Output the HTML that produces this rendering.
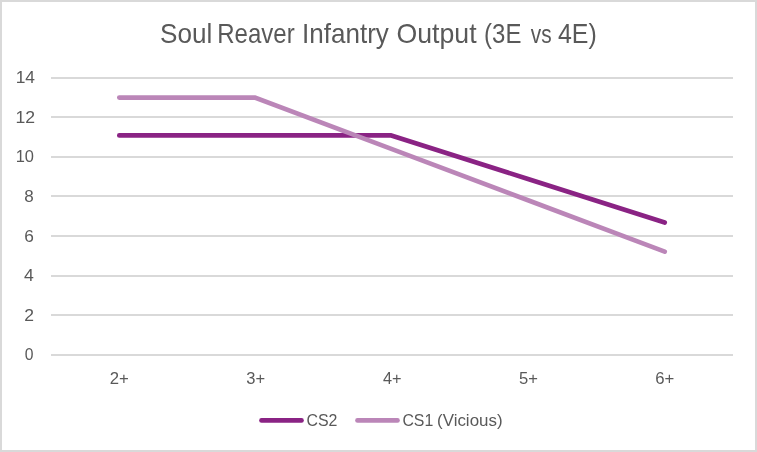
<!DOCTYPE html>
<html><head><meta charset="utf-8"><style>
html,body{margin:0;padding:0;background:#fff;}
body{width:757px;height:452px;overflow:hidden;}
svg{display:block;will-change:transform}
text{font-family:'Liberation Sans',sans-serif;fill:#595959;}
</style></head><body>
<svg width="757" height="452" viewBox="0 0 757 452">
<rect x="0" y="0" width="757" height="452" fill="#d9d9d9"/>
<rect x="2" y="2" width="753" height="448" fill="#ffffff"/>
<text x="160.11" y="43.00" font-size="27.25" textLength="52.23" lengthAdjust="spacingAndGlyphs">Soul</text>
<text x="217.23" y="43.00" font-size="27.25" textLength="77.47" lengthAdjust="spacingAndGlyphs">Reaver</text>
<text x="302.00" y="43.00" font-size="27.25" textLength="86.85" lengthAdjust="spacingAndGlyphs">Infantry</text>
<text x="396.54" y="43.00" font-size="27.25" textLength="80.06" lengthAdjust="spacingAndGlyphs">Output</text>
<text x="484.11" y="43.00" font-size="27.25" textLength="37.32" lengthAdjust="spacingAndGlyphs">(3E</text>
<text x="530.73" y="43.00" font-size="25.5" textLength="20.82" lengthAdjust="spacingAndGlyphs">vs</text>
<text x="557.93" y="43.00" font-size="27.25" textLength="38.82" lengthAdjust="spacingAndGlyphs">4E)</text>
<rect x="51" y="77" width="682" height="2" fill="#d9d9d9"/>
<rect x="51" y="116" width="682" height="2" fill="#d9d9d9"/>
<rect x="51" y="156" width="682" height="2" fill="#d9d9d9"/>
<rect x="51" y="195" width="682" height="2" fill="#d9d9d9"/>
<rect x="51" y="235" width="682" height="2" fill="#d9d9d9"/>
<rect x="51" y="275" width="682" height="2" fill="#d9d9d9"/>
<rect x="51" y="314" width="682" height="2" fill="#d9d9d9"/>
<rect x="51" y="354" width="682" height="2" fill="#d9d9d9"/>
<text x="15.68" y="83.00" font-size="16.5" textLength="19.33" lengthAdjust="spacingAndGlyphs">14</text>
<text x="15.56" y="123.00" font-size="16.5" textLength="19.63" lengthAdjust="spacingAndGlyphs">12</text>
<text x="15.65" y="162.00" font-size="16.5" textLength="18.30" lengthAdjust="spacingAndGlyphs">10</text>
<text x="24.36" y="202.00" font-size="16.5" textLength="9.48" lengthAdjust="spacingAndGlyphs">8</text>
<text x="24.22" y="242.00" font-size="16.5" textLength="9.64" lengthAdjust="spacingAndGlyphs">6</text>
<text x="24.09" y="281.00" font-size="16.5" textLength="9.82" lengthAdjust="spacingAndGlyphs">4</text>
<text x="24.22" y="321.00" font-size="16.5" textLength="9.77" lengthAdjust="spacingAndGlyphs">2</text>
<text x="24.69" y="360.00" font-size="16.5" textLength="8.73" lengthAdjust="spacingAndGlyphs">0</text>
<text x="109.66" y="384.00" font-size="16.5" textLength="19.07" lengthAdjust="spacingAndGlyphs">2+</text>
<text x="246.27" y="384.00" font-size="16.5" textLength="18.84" lengthAdjust="spacingAndGlyphs">3+</text>
<text x="382.93" y="384.00" font-size="16.5" textLength="18.58" lengthAdjust="spacingAndGlyphs">4+</text>
<text x="519.04" y="384.00" font-size="16.5" textLength="18.88" lengthAdjust="spacingAndGlyphs">5+</text>
<text x="655.25" y="384.00" font-size="16.5" textLength="19.07" lengthAdjust="spacingAndGlyphs">6+</text>

<polyline points="119.30,135.45 254.60,135.45 391.30,135.45 528.00,179.02 664.70,222.60" fill="none" stroke="#8a2384" stroke-width="4.7" stroke-linecap="round" stroke-linejoin="round"/>
<polyline points="119.30,97.55 254.60,97.55 391.30,148.90 528.00,200.25 664.70,251.60" fill="none" stroke="#bb86b8" stroke-width="4.7" stroke-linecap="round" stroke-linejoin="round"/>
<line x1="261.5" y1="420.4" x2="301.5" y2="420.4" stroke="#8a2384" stroke-width="4.7" stroke-linecap="round"/>
<line x1="357.5" y1="420.4" x2="397.5" y2="420.4" stroke="#bb86b8" stroke-width="4.7" stroke-linecap="round"/>
<text x="306.39" y="425.60" font-size="16.5" textLength="31.01" lengthAdjust="spacingAndGlyphs">CS2</text>
<text x="402.39" y="425.60" font-size="16.5" textLength="30.88" lengthAdjust="spacingAndGlyphs">CS1</text>
<text x="437.06" y="425.60" font-size="16.5" textLength="65.49" lengthAdjust="spacingAndGlyphs">(Vicious)</text>
</svg>
</body></html>
